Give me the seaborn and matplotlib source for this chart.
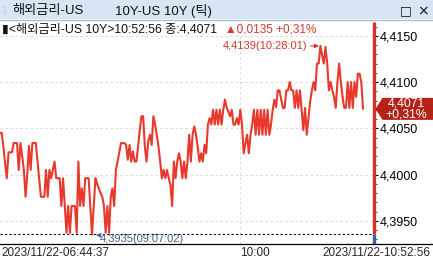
import numpy as np
import pandas as pd
import matplotlib
matplotlib.use('Agg')
import matplotlib.pyplot as plt
import seaborn as sns
from matplotlib.patches import Rectangle, Polygon
from matplotlib.lines import Line2D
from matplotlib.transforms import IdentityTransform, blended_transform_factory
from matplotlib.ticker import FixedLocator, MultipleLocator, FuncFormatter

# ---------------- data (tick-by-tick prices) ----------------
ticks_0644_0820 = [
    4.4045, 4.4045, 4.4030, 4.4012, 4.3996, 4.4024, 4.4024, 4.4024, 4.4034, 4.4034,
    4.4034, 4.4005, 4.4034, 4.4020, 4.4005, 4.3976, 4.4000, 4.4031, 4.4005, 4.4034,
    4.4034, 4.4034, 4.4015, 4.3996, 4.3976, 4.3976, 4.3976, 4.4005, 4.3976, 4.4005,
    4.3996, 4.4005, 4.4014, 4.3996, 4.3996, 4.3996, 4.3966, 4.3996, 4.3966, 4.3937,
    4.3966, 4.3937, 4.3966, 4.3966, 4.3966, 4.3937, 4.4014, 4.3966, 4.3985, 4.3966,
    4.3996, 4.3996, 4.3996, 4.3966, 4.3935, 4.3966, 4.3996, 4.3990, 4.3985, 4.3980,
    4.3976, 4.3966, 4.3937, 4.3966, 4.3937, 4.3976, 4.3985, 4.3966, 4.4005, 4.4014,
    4.4024, 4.4034, 4.4034, 4.4034,
]
ticks_0820_0940 = [
    4.4032, 4.4016, 4.4032, 4.4014, 4.4025, 4.4014, 4.4014, 4.4030, 4.4048, 4.4063,
    4.4063, 4.4030, 4.4014, 4.4036, 4.4043, 4.4032, 4.4063, 4.4054, 4.4043, 4.4030,
    4.4014, 4.3996, 4.4005, 4.3996, 4.4005, 4.3996, 4.3989, 4.3966, 4.4014, 4.3996,
    4.4014, 4.4023, 4.4014, 4.3996, 4.4014, 4.3996, 4.4014, 4.4043, 4.4014, 4.4043,
    4.4052, 4.4043, 4.4030, 4.4014, 4.4023, 4.4014, 4.4032, 4.4023,
]
ticks_0940_1015 = [
    4.4054, 4.4061, 4.4054, 4.4070, 4.4054, 4.4070, 4.4054, 4.4070, 4.4054, 4.4070,
    4.4081, 4.4072, 4.4068, 4.4063, 4.4070, 4.4054, 4.4054, 4.4061, 4.4054, 4.4070,
    4.4054, 4.4023, 4.4034, 4.4043, 4.4023, 4.4043, 4.4054, 4.4070, 4.4043, 4.4070,
    4.4043, 4.4070, 4.4043, 4.4070, 4.4043, 4.4070, 4.4043, 4.4054, 4.4070, 4.4081,
    4.4073, 4.4091, 4.4091, 4.4081, 4.4072, 4.4072, 4.4091, 4.4091, 4.4100, 4.4091,
]
ticks_1015_1052 = [
    4.4091, 4.4072, 4.4091, 4.4072, 4.4091, 4.4070, 4.4048, 4.4072, 4.4043, 4.4061,
    4.4079, 4.4091, 4.4100, 4.4091, 4.4120, 4.4120, 4.4139, 4.4129, 4.4120, 4.4138,
    4.4120, 4.4091, 4.4100, 4.4091, 4.4084, 4.4072, 4.4100, 4.4120, 4.4100, 4.4084,
    4.4072, 4.4072, 4.4100, 4.4072, 4.4100, 4.4072, 4.4100, 4.4084, 4.4109, 4.4109,
    4.4100, 4.4071,
]

title_left = "해외금리-US"
title_right = "10Y-US 10Y (틱)"
info_black = "▮<해외금리-US 10Y>10:52:56 종:4,4071"
info_red = "▲0,0135 +0,31%"
last_price = 4.4071
price_box_lines = ["4,4071", "+0,31%"]
prev_close = 4.3936
y_ticks = [4.3950, 4.4000, 4.4050, 4.4100, 4.4150]
x_label_start = "2023/11/22-06:44:37"
x_label_mid = "10:00"
x_label_end = "2023/11/22-10:52:56"
mid_label_tick = 141
max_label = "4,4139(10:28:01)"
min_label = "4,3935(09:07:02)"

prices = ticks_0644_0820 + ticks_0820_0940 + ticks_0940_1015 + ticks_1015_1052
df = pd.DataFrame({"tick": np.arange(len(prices)), "price": prices})

# ---------------- styling ----------------
sns.set_style("white")
FONTS = ["Liberation Sans", "Noto Sans CJK KR", "DejaVu Sans"]
plt.rcParams["font.family"] = FONTS

W, H = 433, 264
fig = plt.figure(figsize=(W / 100, H / 100), dpi=100)
fig.patch.set_facecolor("white")

LINE_RED = "#e8392c"
AXIS_RED = "#d9302a"
AXIS_BLUE = "#3d5f9e"
TXT_RED = "#d0392b"
MIN_BLUE = "#40618f"

ax = fig.add_axes([0, 20 / H, 374 / W, 222 / H])
ax.set_facecolor("white")

sns.lineplot(data=df, x="tick", y="price", ax=ax, color=LINE_RED, linewidth=1.5, zorder=3)

n = len(prices)
x_right = (n - 1) * 374 / 363
ax.set_xlim(0, x_right)
ylo, yhi = 4.39249, 4.41649
ax.set_ylim(ylo, yhi)

for s in ax.spines.values():
    s.set_visible(False)

# y axis on right
ax.yaxis.tick_right()
ax.yaxis.set_major_locator(FixedLocator(y_ticks))
ax.yaxis.set_minor_locator(MultipleLocator(0.001))
ax.yaxis.set_major_formatter(FuncFormatter(lambda v, p: f"{v:.4f}".replace(".", ",")))
ax.tick_params(axis="y", which="major", direction="out", length=3, width=0.8,
               color="black", pad=1, labelsize=9, labelcolor="black", right=True, left=False)
ax.tick_params(axis="y", which="minor", direction="out", length=2, width=0.6,
               color="#333333", right=True, left=False)
ax.set_ylabel("")
ax.set_xlabel("")

# x axis: one tick at 10:00 (label drawn as text at same height as end labels)
ax.set_xticks([mid_label_tick])
ax.set_xticklabels([""])
ax.tick_params(axis="x", direction="out", length=5, width=0.8, color="black", pad=0)
xt = blended_transform_factory(ax.transData, fig.transFigure)
fig.text(mid_label_tick, 1 - 253 / H, x_label_mid, transform=xt, ha="left",
         va="center", fontsize=8.5)

# grid
ax.grid(False)
for v in y_ticks:
    ax.axhline(v, color="#d4d4d4", lw=0.6, ls=(0, (3, 3)), zorder=1)
ax.axvline(mid_label_tick, color="#d4d4d4", lw=0.6, ls=(0, (3, 3)), zorder=1)

# previous close dashed line
ax.axhline(prev_close, color="black", lw=0.8, ls=(0, (2, 2)), zorder=2)

# right axis line: red above previous close, blue below
ax.plot([x_right, x_right], [prev_close, yhi], color=AXIS_RED, lw=2.4,
        solid_capstyle="butt", clip_on=False, zorder=5)
ax.plot([x_right, x_right], [ylo, prev_close], color=AXIS_BLUE, lw=2.4,
        solid_capstyle="butt", clip_on=False, zorder=5)

# bottom axis line across the whole window
fig.add_artist(Line2D([0, 1], [20 / H, 20 / H], transform=fig.transFigure,
                      color="black", lw=0.9))

# max / min annotations
imax = int(np.argmax(prices))
imin = int(np.argmin(prices))
ax.annotate(max_label, xy=(imax, prices[imax]), xytext=(-13, 0),
            textcoords="offset pixels", ha="right", va="center", fontsize=8,
            color=TXT_RED,
            arrowprops=dict(arrowstyle="-|>", color=TXT_RED, lw=0.8,
                            shrinkA=0, shrinkB=1, mutation_scale=6))
ax.annotate(min_label, xy=(imin, prices[imin]), xytext=(8, -4),
            textcoords="offset pixels", ha="left", va="center", fontsize=8,
            color=MIN_BLUE,
            arrowprops=dict(arrowstyle="-|>", color=MIN_BLUE, lw=0.8,
                            shrinkA=0, shrinkB=3, mutation_scale=6))

# x-axis end labels
fig.text(1 / W, 1 - 253 / H, x_label_start, ha="left", va="center", fontsize=8.5)
fig.text(430 / W, 1 - 253 / H, x_label_end, ha="right", va="center", fontsize=8.5)

# price box at right
y_disp = ax.transData.transform((0, last_price))[1]
tip_x = 375.5
poly = Polygon([(tip_x, y_disp), (tip_x + 7, y_disp + 11), (W, y_disp + 11),
                (W, y_disp - 11), (tip_x + 7, y_disp - 11)],
               closed=True, transform=IdentityTransform(), fc="#b52218", ec="none",
               zorder=10)
fig.add_artist(poly)
fig.text(406 / W, (y_disp + 5) / H, price_box_lines[0], ha="center", va="center",
         fontsize=8.8, color="white", zorder=11)
fig.text(406 / W, (y_disp - 5.5) / H, price_box_lines[1], ha="center", va="center",
         fontsize=8.8, color="white", zorder=11)

# title bar
fig.add_artist(Rectangle((0, 1 - 19 / H), 1, 19 / H, transform=fig.transFigure,
                         fc="#d7e6f2", ec="none", zorder=0))
fig.add_artist(Line2D([0, 1], [1 - 19.5 / H, 1 - 19.5 / H], transform=fig.transFigure,
                      color="#a8bfd4", lw=1))
fig.text(3 / W, 1 - 11 / H, "⁞", ha="left", va="center", fontsize=8, color="#9aa8b5",
         family=["DejaVu Sans"])
fig.text(12 / W, 1 - 11 / H, title_left, ha="left", va="center", fontsize=9.5,
         color="#111111")
fig.text(115 / W, 1 - 11 / H, title_right, ha="left", va="center", fontsize=9.5,
         color="#111111")
fig.text(406 / W, 1 - 11 / H, "□", ha="center", va="center", fontsize=9,
         color="#111111", family=["DejaVu Sans"])
fig.text(423 / W, 1 - 11 / H, "×", ha="center", va="center", fontsize=10,
         color="#111111", family=["DejaVu Sans"])

# info line
fig.text(2 / W, 1 - 29 / H, info_black, ha="left", va="center", fontsize=8.8,
         color="#111111")
fig.text(225 / W, 1 - 29 / H, info_red, ha="left", va="center", fontsize=8.5,
         color=TXT_RED)

fig.savefig("out.png", dpi=100, facecolor="white")
